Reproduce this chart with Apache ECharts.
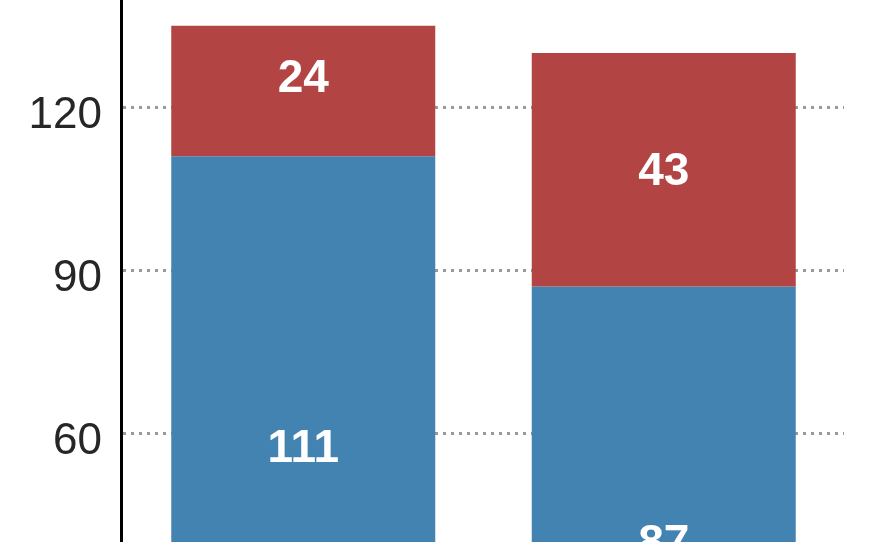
<!DOCTYPE html>
<html>
<head>
<meta charset="utf-8">
<script src="https://cdn.jsdelivr.net/npm/echarts@6/dist/echarts.min.js"></script>
<style>
html,body{margin:0;padding:0;background:#fff;}
#chart{width:880px;height:542px;}
</style>
</head>
<body>
<div id="chart"></div>
<script>
// Data
const categories = ["Group 1", "Group 2"];
const blueValues = [111, 87];
const redValues = [24, 43];
const yTicks = { min: 0, max: 150, interval: 30 };

const blueLabelOffsets = [[0, -8], [0, 21]];
const redLabelOffsets = [[0, -12], [0, 3]];

const labelFont = {
  show: true,
  position: 'inside',
  color: '#ffffff',
  fontWeight: 'bold',
  fontSize: 46,
  fontFamily: '"Liberation Sans", Arial, Helvetica, sans-serif'
};

const chart = echarts.init(document.getElementById('chart'), null, { renderer: 'canvas' });
chart.setOption({
  animation: false,
  backgroundColor: '#ffffff',
  grid: { left: 123, width: 721, top: -55.7, height: 815, containLabel: false, outerBoundsMode: 'none' },
  xAxis: {
    type: 'category',
    data: categories,
    axisLine: { show: false },
    axisTick: { show: false },
    axisLabel: { show: false },
    splitLine: { show: false }
  },
  yAxis: {
    type: 'value',
    min: yTicks.min,
    max: yTicks.max,
    interval: yTicks.interval,
    offset: 2,
    axisLine: { show: true, lineStyle: { color: '#000000', width: 3 } },
    axisTick: { show: false },
    axisLabel: {
      margin: 19,
      formatter: '{t|{value}}',
      rich: {
        t: {
          color: '#262626',
          fontSize: 44,
          fontFamily: '"Liberation Sans", Arial, Helvetica, sans-serif',
          padding: [18, 0, 0, 0]
        }
      }
    },
    splitLine: { show: true, lineStyle: { color: '#999999', width: 3, type: [3, 5] } }
  },
  series: [
    {
      type: 'bar',
      stack: 'total',
      barWidth: 264,
      itemStyle: { color: '#4383b1' },
      data: blueValues.map((v, i) => ({ value: v, label: Object.assign({}, labelFont, { offset: blueLabelOffsets[i] }) }))
    },
    {
      type: 'bar',
      stack: 'total',
      barWidth: 264,
      itemStyle: { color: '#b24443' },
      data: redValues.map((v, i) => ({ value: v, label: Object.assign({}, labelFont, { offset: redLabelOffsets[i] }) }))
    }
  ]
});
</script>
</body>
</html>
